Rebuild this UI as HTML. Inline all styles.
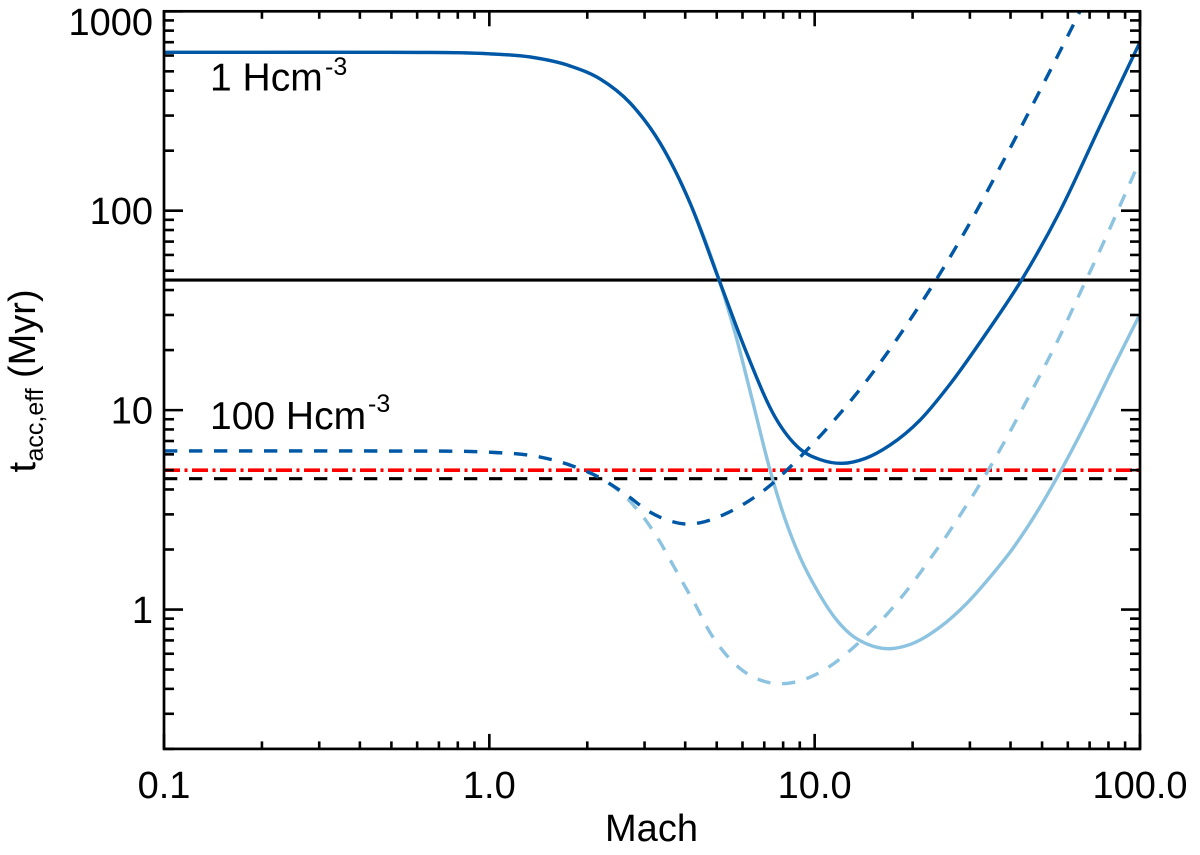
<!DOCTYPE html>
<html lang="en">
<head>
<meta charset="utf-8">
<title>Effective acceleration time versus Mach number</title>
<style>
html,body{margin:0;padding:0;background:#fff;}
svg{display:block;}
text{font-family:"Liberation Sans",Arial,sans-serif;fill:#000;}
</style>
</head>
<body>
<svg id="chart" xmlns="http://www.w3.org/2000/svg" width="1200" height="855" viewBox="0 0 1200 855">
  <rect width="1200" height="855" fill="#fff"/>
  <defs><clipPath id="plot-clip"><rect x="164" y="11.3" width="976" height="737.6"/></clipPath></defs>
  <g id="reference-lines" clip-path="url(#plot-clip)"></g>
  <g id="series" clip-path="url(#plot-clip)"></g>
  <g id="ticks"></g>
  <rect x="164" y="11.3" width="976" height="737.6" fill="none" stroke="#000" stroke-width="2.7"/>
  <g id="tick-labels"></g>
  <text x="651.5" y="841" font-size="38" text-anchor="middle">Mach</text>
  <g>
    <text transform="translate(35 472.5) rotate(-90)" font-size="38">t</text>
    <text transform="translate(43 461.5) rotate(-90)" font-size="25">acc,eff</text>
    <text transform="translate(35 378) rotate(-90)" font-size="38">(Myr)</text>
  </g>
  <g>
    <text x="210" y="90.5" font-size="39">1 Hcm</text>
    <text x="325" y="75" font-size="25">-3</text>
  </g>
  <g>
    <text x="210" y="429" font-size="39">100 Hcm</text>
    <text x="368" y="412" font-size="25">-3</text>
  </g>
</svg>
<script>
// Chart data
const machDarkSolid = [0.1,0.2,0.4,0.6,0.8,1.0,1.334,1.771,2.19,2.708,3.348,4.14,5.083,6.198,7.556,9.017,10.39,12.14,14.29,17.05,21.09,26.07,33.4,43.42,56.8,75.4,100];
const timeDarkSolid = [623,623,623,622,620,612,590,532,458,347,218.5,109.3,44.95,19.1,9.23,6.38,5.65,5.41,5.72,6.68,8.92,13.5,23.8,45.4,99.7,266,701];
const machLightSolid = [0.1,0.2,0.4,0.6,0.8,1.0,1.334,1.771,2.19,2.708,3.348,4.14,5.083,5.693,6.42,7.29,8.11,9.017,10.17,11.55,12.85,14.5,16.7,19.65,24.3,29.4,34.6,40.7,49.3,56.8,68.7,82.6,100];
const timeLightSolid = [623,623,623,622,620,612,590,532,458,347,218.5,109.3,44.95,24.4,11.37,5.01,2.84,1.83,1.25,0.907,0.754,0.671,0.636,0.668,0.817,1.078,1.455,2.03,3.27,4.89,8.82,16.26,30.3];
const machDarkDashed = [0.1,0.2,0.4,0.6,0.8,1.0,1.431,1.771,2.19,2.614,3.119,3.593,4.08,4.6,5.3,6.198,7.14,8.22,9.47,10.6,12,13.5,16.7,19.9,23.8,29.4,37.2,47.6,55.6,64.1,70.2];
const timeDarkDashed = [6.24,6.24,6.24,6.23,6.22,6.15,5.82,5.3,4.57,3.8,3.08,2.78,2.68,2.76,3.01,3.46,4.07,5.01,6.31,7.68,9.67,12.2,19.3,29.3,45.9,81.9,166,359,590,936,1279];
const machLightDashed = [0.1,0.2,0.4,0.6,0.8,1.0,1.431,1.771,2.19,2.614,3.05,3.348,3.67,4.0,4.35,4.7,5.23,5.9,6.94,8.22,9.68,11.4,13,14.8,16.7,18.7,20.8,23.1,25.5,28.2,31.1,33.9,40.4,47.9,56,65,75.4,88.1,100];
const timeLightDashed = [6.24,6.24,6.24,6.23,6.22,6.15,5.82,5.3,4.57,3.69,2.75,2.18,1.67,1.3,1.02,0.798,0.619,0.506,0.438,0.426,0.458,0.533,0.634,0.771,0.949,1.18,1.48,1.88,2.36,3.03,3.88,4.89,8.13,13.7,22.5,37.8,63.5,112,179];
const blackSolidValue = 44.9;
const blackDashedValue = 4.53;
const redDashDotValue = 5.0;
const xMajorTicks = [0.1,1,10,100];
const xMinorTicks = [0.2,0.3,0.4,0.5,0.6,0.7,0.8,0.9,2,3,4,5,6,7,8,9,20,30,40,50,60,70,80,90];
const yMajorTicks = [1,10,100,1000];
const yMinorTicks = [0.2,0.3,0.4,0.5,0.6,0.7,0.8,0.9,2,3,4,5,6,7,8,9,20,30,40,50,60,70,80,90,200,300,400,500,600,700,800,900];
const xTickLabels = ["0.1","1.0","10.0","100.0"];
const yTickLabels = ["1","10","100","1000"];

// Axis functions
const xLeft = 164, xRight = 1140, yTop = 11.3, yBottom = 748.9;
const xDomain = [0.1, 100], yDomain = [0.2, 1000];
function sx(v){
  return xLeft + (Math.log10(v) - Math.log10(xDomain[0])) / (Math.log10(xDomain[1]) - Math.log10(xDomain[0])) * (xRight - xLeft);
}
function sy(v){
  return yBottom - (Math.log10(v) - Math.log10(yDomain[0])) / (Math.log10(yDomain[1]) - Math.log10(yDomain[0])) * (yBottom - yTop);
}
const NS = 'http://www.w3.org/2000/svg';
function make(tag, parent){
  const el = document.createElementNS(NS, tag);
  parent.appendChild(el);
  return el;
}
// Cubic Hermite through the read values, with tangents weighted for uneven spacing
function smoothPath(xs, ys){
  const px = xs.map(sx), py = ys.map(sy), n = px.length;
  const h = [], d = [], m = [];
  for (let i = 0; i < n - 1; i++){
    h.push(px[i + 1] - px[i]);
    d.push((py[i + 1] - py[i]) / h[i]);
  }
  m.push(d[0]);
  for (let i = 1; i < n - 1; i++){
    m.push((h[i - 1] * d[i] + h[i] * d[i - 1]) / (h[i - 1] + h[i]));
  }
  m.push(d[n - 2]);
  let path = 'M' + px[0].toFixed(2) + ' ' + py[0].toFixed(2);
  for (let i = 0; i < n - 1; i++){
    const t = h[i] / 3;
    path += 'C' + (px[i] + t).toFixed(2) + ' ' + (py[i] + m[i] * t).toFixed(2) + ' ' +
      (px[i + 1] - t).toFixed(2) + ' ' + (py[i + 1] - m[i + 1] * t).toFixed(2) + ' ' +
      px[i + 1].toFixed(2) + ' ' + py[i + 1].toFixed(2);
  }
  return path;
}

// Horizontal reference lines
const refGroup = document.getElementById('reference-lines');
function hLine(value, color, width, dash){
  const l = make('line', refGroup);
  l.setAttribute('x1', xLeft);
  l.setAttribute('x2', xRight);
  l.setAttribute('y1', sy(value));
  l.setAttribute('y2', sy(value));
  l.setAttribute('stroke', color);
  l.setAttribute('stroke-width', width);
  if (dash) l.setAttribute('stroke-dasharray', dash);
  return l;
}
const blackSolidLine = hLine(blackSolidValue, '#000', '3.2', null);


const blackDashedLine = hLine(blackDashedValue, '#000', '3.2', '13.3 11.7');


const redDashDotLine = hLine(redDashDotValue, '#ff0000', '3.6', '16 4.5 3 4.5');



// Curves
const seriesGroup = document.getElementById('series');
function curve(xs, ys, color, dash){
  const p = make('path', seriesGroup);
  p.setAttribute('d', smoothPath(xs, ys));
  p.setAttribute('fill', 'none');
  p.setAttribute('stroke', color);
  p.setAttribute('stroke-width', '3.4');
  if (dash) p.setAttribute('stroke-dasharray', dash);
  return p;
}
const lightDashedCurve = curve(machLightDashed, timeLightDashed, '#8cc3e0', '13.3 11.7');


const lightSolidCurve = curve(machLightSolid, timeLightSolid, '#8cc3e0', null);


const darkDashedCurve = curve(machDarkDashed, timeDarkDashed, '#0057a6', '13.3 11.7');


const darkSolidCurve = curve(machDarkSolid, timeDarkSolid, '#0057a6', null);



// Ticks
const tickGroup = document.getElementById('ticks');
function tick(x1, y1, x2, y2){
  const t = make('line', tickGroup);
  t.setAttribute('x1', x1);
  t.setAttribute('y1', y1);
  t.setAttribute('x2', x2);
  t.setAttribute('y2', y2);
  t.setAttribute('stroke', '#000');
  t.setAttribute('stroke-width', '2.6');
  return t;
}
function xTicks(values, len, name){
  values.forEach(v => {
    const bottomTick = tick(sx(v), yBottom, sx(v), yBottom - len);
    
    
    const topTick = tick(sx(v), yTop, sx(v), yTop + len);
    
    
  });
}
function yTicks(values, len, name){
  values.forEach(v => {
    const leftTick = tick(xLeft, sy(v), xLeft + len, sy(v));
    
    
    const rightTick = tick(xRight, sy(v), xRight - len, sy(v));
    
    
  });
}
xTicks(xMajorTicks, 15, 'x-major-tick');
xTicks(xMinorTicks, 7.5, 'x-minor-tick');
yTicks(yMajorTicks, 19, 'y-major-tick');
yTicks(yMinorTicks, 10, 'y-minor-tick');

// Tick labels
const labelGroup = document.getElementById('tick-labels');
xMajorTicks.forEach((v, i) => {
  const t = make('text', labelGroup);
  
  
  t.setAttribute('x', sx(v));
  t.setAttribute('y', 798);
  t.setAttribute('font-size', '38');
  t.setAttribute('text-anchor', 'middle');
  t.textContent = xTickLabels[i];
});
yMajorTicks.forEach((v, i) => {
  const t = make('text', labelGroup);
  
  
  t.setAttribute('x', 153);
  t.setAttribute('y', Math.max(sy(v) + 13.5, 35));
  t.setAttribute('font-size', '38');
  t.setAttribute('text-anchor', 'end');
  t.textContent = yTickLabels[i];
});
</script>
</body>
</html>
